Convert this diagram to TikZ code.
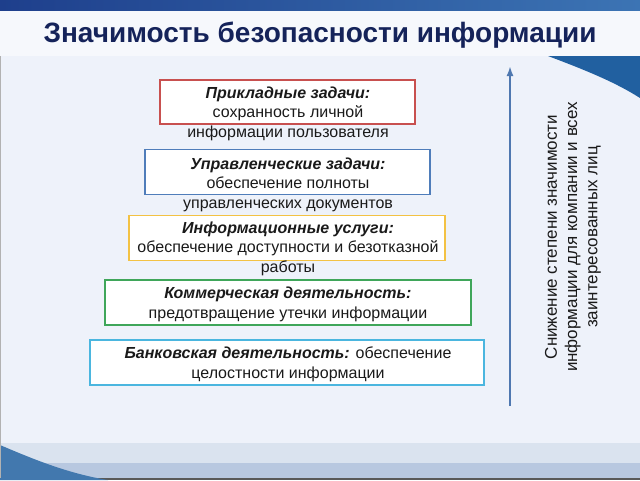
\documentclass[tikz,border=0pt]{standalone}
\usepackage{fontspec}
\setmainfont{Liberation Sans}
\usetikzlibrary{arrows.meta}
\newcommand{\hd}[1]{{\bfseries\itshape #1}}
\begin{document}
\begin{tikzpicture}[x=1pt,y=-1pt,
  lvlbox/.style={draw,line width=1.7pt,fill=white,minimum height=45pt,inner sep=0pt},
  lvltext/.style={anchor=north,align=center,font=\fontsize{16}{19.2}\selectfont,text=textc,inner sep=0pt}]
\definecolor{bodybg}{HTML}{EEF2FA}
\definecolor{titlebg}{HTML}{F6F8FC}
\definecolor{topstrip}{HTML}{1E3F8C}
\definecolor{topstripR}{HTML}{3C74B4}
\definecolor{wedge}{HTML}{2160A0}
\definecolor{titlec}{HTML}{15235A}
\definecolor{textc}{HTML}{1A1A1A}
\definecolor{cred}{HTML}{C8504F}
\definecolor{cblue}{HTML}{4F7DBA}
\definecolor{cyellow}{HTML}{F3C244}
\definecolor{cgreen}{HTML}{3FA65A}
\definecolor{ccyan}{HTML}{4BB6DF}
\definecolor{arrowc}{HTML}{4F78B0}
\definecolor{band1}{HTML}{DAE3EF}
\definecolor{band2}{HTML}{B8C8E0}
\useasboundingbox (0,0) rectangle (640,480);
% background
\fill[bodybg] (0,0) rectangle (640,480);
\fill[titlebg] (0,10) rectangle (640,56);
\shade[left color=topstrip,right color=topstripR] (0,0) rectangle (640,10);
\fill[wedge] (548,56) .. controls (585,70) and (615,82) .. (640,98) -- (640,56) -- cycle;
\fill[band1] (0,443) rectangle (640,463);
\fill[band2] (0,463) rectangle (640,478);
\fill[gray!70!black] (0,478) rectangle (640,480);
\fill[wedge!85!white] (0,445) .. controls (35,460) and (70,474) .. (108,480) -- (0,480) -- cycle;
\draw[gray!60,line width=1pt] (0.5,56) -- (0.5,478);
% title
\node[font=\bfseries\fontsize{28}{32}\selectfont,text=titlec,inner sep=0pt] (title) at (320,35) {Значимость безопасности информации};
% boxes
\node[lvlbox,draw=cred,minimum width=255pt,minimum height=44pt] (b1) at (287.5,102) {};
\node[lvlbox,draw=cblue,minimum width=285pt] (b2) at (287.5,172) {};
\node[lvlbox,draw=cyellow,minimum width=316pt] (b3) at (287,238) {};
\node[lvlbox,draw=cgreen,minimum width=366pt] (b4) at (288,302.5) {};
\node[lvlbox,draw=ccyan,minimum width=394pt] (b5) at (287,362.5) {};
\node[lvltext] (t1) at (288,87) {\hd{Прикладные задачи:}\\сохранность личной\\информации пользователя};
\node[lvltext] (t2) at (288,158) {\hd{Управленческие задачи:}\\обеспечение полноты\\управленческих документов};
\node[lvltext] (t3) at (288,222) {\hd{Информационные услуги:}\\обеспечение доступности и безотказной\\работы};
\node[lvltext] (t4) at (288,287) {\hd{Коммерческая деятельность:}\\предотвращение утечки информации};
\node[lvltext] (t5) at (288,347) {\hd{Банковская деятельность:} обеспечение\\целостности информации};
% arrow
\coordinate (abot) at (510,406);
\coordinate (atop) at (510,66);
\draw[arrowc,line width=2pt,-{Latex[length=10pt,width=7pt]}] (abot) -- (atop);
\node[rotate=90,align=center,font=\fontsize{17}{20.3}\selectfont,text=textc,inner sep=0pt] (side) at (573,237)
  {Снижение степени значимости\\информации для компании и всех\\заинтересованных лиц};
\end{tikzpicture}
\end{document}
